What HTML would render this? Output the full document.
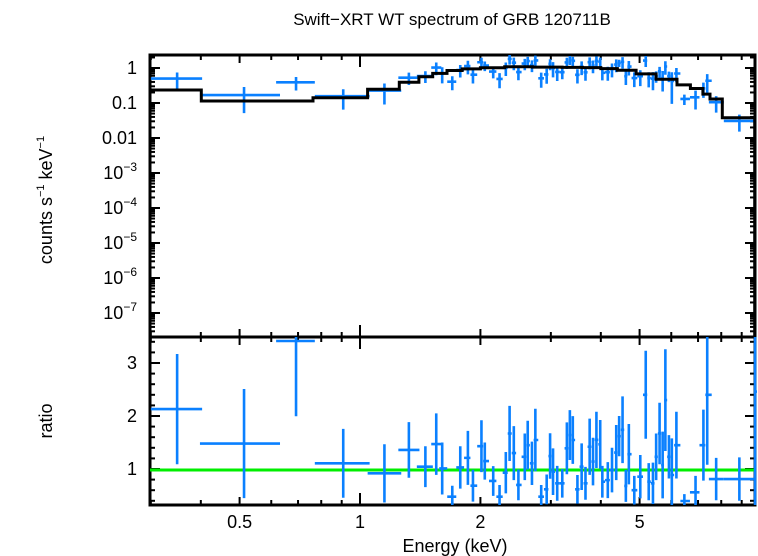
<!DOCTYPE html>
<html><head><meta charset="utf-8"><style>
html,body{margin:0;padding:0;background:#fff;}
svg{display:block;font-family:"Liberation Sans",sans-serif;}
</style></head><body>
<svg id="chart" width="758" height="556" viewBox="0 0 758 556">
<text x="452" y="25" font-size="17" text-anchor="middle">Swift−XRT WT spectrum of GRB 120711B</text>
<text transform="translate(52,200) rotate(-90)" font-size="18" text-anchor="middle">counts s<tspan font-size="11" dy="-8">−1</tspan><tspan dy="8"> keV</tspan><tspan font-size="11" dy="-8">−1</tspan></text>
<text transform="translate(52,421) rotate(-90)" font-size="18" text-anchor="middle">ratio</text>
<text x="455" y="552" font-size="18" text-anchor="middle">Energy (keV)</text>
<g id="g"></g>
</svg>
<script>
// ---- data ----
const modelEdges = [0.3,0.401,0.763,1.045,1.254,1.404,1.52,1.65,1.8,2.0,2.3,2.7,3.2,3.6,4.0,4.4,4.9,5.5,6.2,6.7,7.2,7.5,8.05,9.7,10.5];
const modelValues = [0.235,0.114,0.141,0.246,0.39,0.565,0.70,0.85,0.94,1.02,1.09,1.06,1.04,1.03,0.96,0.86,0.68,0.48,0.33,0.26,0.18,0.13,0.038,1e-9];
const energies = [0.349,0.513,0.692,0.908,1.151,1.325,1.457,1.551,1.605,1.701,1.781,1.861,1.916,2.012,2.051,2.153,2.233,2.315,2.366,2.424,2.489,2.582,2.626,2.691,2.744,2.838,2.929,2.987,3.038,3.112,3.204,3.290,3.347,3.404,3.496,3.582,3.662,3.751,3.824,3.900,3.986,4.035,4.164,4.266,4.371,4.445,4.533,4.62,4.70,4.85,5.02,5.18,5.27,5.40,5.50,5.61,5.71,5.80,5.92,6.02,6.18,6.47,6.90,7.22,7.38,7.77,8.88,9.72];
const energyLo = {0:0.30,1:0.398,2:0.617,3:0.771,4:1.045,5:1.247,6:1.387,7:1.507,65:7.45,66:8.12,67:9.68};
const energyHi = {0:0.403,1:0.631,2:0.771,3:1.057,4:1.268,5:1.408,6:1.521,7:1.597,65:8.12,66:9.66,67:10.2};
const ratios = [2.13,1.48,3.415,1.107,0.918,1.36,1.044,1.47,1.01,0.478,1.03,1.21,0.685,1.43,1.15,0.774,0.478,0.93,1.67,1.30,0.70,1.23,1.45,1.107,1.547,0.478,0.616,1.245,0.95,0.73,0.73,1.39,1.64,1.547,0.616,1.044,0.73,1.42,1.14,1.55,1.465,0.76,0.79,0.98,1.31,1.62,1.74,0.68,1.28,0.60,0.855,2.40,0.76,0.73,1.23,1.67,1.075,2.30,1.23,0.887,1.45,0.396,0.56,1.45,2.40,0.81,0.81,2.46];
const ratioErr = [1.04,1.03,1.42,0.65,0.55,0.525,0.385,0.58,0.49,0.205,0.40,0.51,0.30,0.49,0.35,0.28,0.22,0.39,0.52,0.51,0.29,0.44,0.46,0.41,0.59,0.22,0.28,0.43,0.44,0.33,0.27,0.49,0.47,0.45,0.27,0.44,0.31,0.53,0.45,0.53,0.46,0.30,0.34,0.42,0.52,0.38,0.63,0.30,0.57,0.27,0.41,0.83,0.35,0.39,0.44,0.58,0.63,0.96,0.41,0.69,0.63,0.13,0.31,0.67,1.32,0.40,0.41,2.6];
const topTickVals = [1,0.1,0.01,1e-3,1e-4,1e-5,1e-6,1e-7];
const topTickLabels = ["1","0.1","0.01","10|−3","10|−4","10|−5","10|−6","10|−7"];
const xLabelVals = [0.5,1,2,5];
const ratioTicks = [1,2,3];
const ratioLine = 0.98;

// ---- axes ----
const L=150,R=755,T1=55,B1=337,T2=337,B2=505;
const xs = e => 360 + 400*Math.log10(e);
const ys = v => 68 - 35*Math.log10(v);
const yr = r => 469 - 53*(r-1);
const NS='http://www.w3.org/2000/svg';
const g=document.getElementById('g');
function mk(tag,attrs,parent){const el=document.createElementNS(NS,tag);for(const k in attrs)el.setAttribute(k,attrs[k]);(parent||g).appendChild(el);return el;}
const defs=mk('defs',{});
const c1=mk('clipPath',{id:'c1'},defs);mk('rect',{x:L,y:T1,width:R-L+2,height:B1-T1},c1);
const c2=mk('clipPath',{id:'c2'},defs);mk('rect',{x:L,y:T2,width:R-L+2,height:B2-T2},c2);
const BLUE='#0a80ff';
function model(e){for(let i=0;i<modelValues.length;i++){if(e>=modelEdges[i]&&e<modelEdges[i+1])return modelValues[i];}return modelValues[modelValues.length-1];}
function bounds(i){
  const lo = energyLo[i]!==undefined?energyLo[i]:Math.sqrt(energies[i]*energies[i-1]);
  const hi = energyHi[i]!==undefined?energyHi[i]:Math.sqrt(energies[i]*energies[i+1]);
  return [lo,hi];
}
// ticks
const tk=mk('g',{stroke:'#000','stroke-width':2});


function tick(x1,y1,x2,y2){mk('line',{x1,y1,x2,y2},tk);}
const xMinor=[0.3,0.4,0.5,0.6,0.7,0.8,0.9,2,3,4,5,6,7,8,9];
for(const e of xMinor){const x=xs(e);const len=(e===0.5||e===2||e===5)?8:5;
  tick(x,T1,x,T1+len);tick(x,B1,x,B1-len);tick(x,T2,x,T2+len);tick(x,B2,x,B2-len);}
{const x=xs(1);tick(x,T1,x,T1+12);tick(x,B1,x,B1-12);tick(x,T2,x,T2+12);tick(x,B2,x,B2-12);}
for(let p=-8;p<=0;p++){for(let k=1;k<10;k++){const v=k*Math.pow(10,p);const y=ys(v);if(y<T1||y>B1)continue;const len=k===1?10:5;
  tick(L,y,L+len,y);tick(R,y,R-len,y);}}
for(let r=0.4;r<=3.5;r+=0.2){const y=yr(r);if(y<T2||y>B2)continue;const major=Math.abs(r-Math.round(r))<0.01;const len=major?10:5;
  tick(L,y,L+len,y);tick(R,y,R-len,y);}
// frames
const f1=mk('rect',{x:L,y:T1,width:R-L,height:B1-T1,fill:'none',stroke:'#000','stroke-width':3});


const f2=mk('rect',{x:L,y:T2,width:R-L,height:B2-T2,fill:'none',stroke:'#000','stroke-width':3});


// top panel data
const gTop=mk('g',{'clip-path':'url(#c1)'});


let d='';
for(let i=0;i<modelValues.length;i++){
  const x0=xs(modelEdges[i]),x1=xs(modelEdges[i+1]),y=ys(modelValues[i]);
  d+=(i===0?'M':'L')+x0.toFixed(1)+','+y.toFixed(1)+'L'+x1.toFixed(1)+','+y.toFixed(1);
}
for(let i=0;i<energies.length;i++){
  const [lo,hi]=bounds(i);const m=model(energies[i]);
  const c=ratios[i]*m, up=(ratios[i]+ratioErr[i])*m, dn=(ratios[i]-ratioErr[i])*m;
  const x=xs(energies[i]);
  const p=mk('path',{d:'M'+xs(lo)+','+ys(c)+'H'+xs(hi)+'M'+x+','+ys(up)+'V'+(dn>0?ys(dn):B1+5),stroke:BLUE,'stroke-width':2.6,fill:'none'},gTop);
  
  
}
const mp=mk('path',{d:d,stroke:'#000','stroke-width':3,fill:'none'},gTop);


// bottom panel
const gBot=mk('g',{'clip-path':'url(#c2)'});


const gl=mk('line',{x1:L,x2:R,y1:yr(ratioLine),y2:yr(ratioLine),stroke:'#00ee00','stroke-width':3},gBot);


for(let i=0;i<energies.length;i++){
  const [lo,hi]=bounds(i);const x=xs(energies[i]);
  const p=mk('path',{d:'M'+xs(lo)+','+yr(ratios[i])+'H'+xs(hi)+'M'+x+','+yr(ratios[i]+ratioErr[i])+'V'+yr(ratios[i]-ratioErr[i]),stroke:BLUE,'stroke-width':2.6,fill:'none'},gBot);
  
  
}
// labels
for(let i=0;i<topTickVals.length;i++){
  const y=ys(topTickVals[i])+6;const parts=topTickLabels[i].split('|');
  const t=mk('text',{x:137,y:y,'font-size':18,'text-anchor':'end'});
  
  
  if(parts.length===1){t.textContent=parts[0];}
  else{const a=mk('tspan',{},t);a.textContent=parts[0];const b=mk('tspan',{'font-size':12,dy:-8},t);b.textContent=parts[1];}
}
for(const r of ratioTicks){const t=mk('text',{x:137,y:yr(r)+6,'font-size':18,'text-anchor':'end'});
  
  
  t.textContent=String(r);}
for(const e of xLabelVals){const t=mk('text',{x:xs(e),y:528,'font-size':18,'text-anchor':'middle'});
  
  
  t.textContent=String(e);}
</script>
</body></html>
